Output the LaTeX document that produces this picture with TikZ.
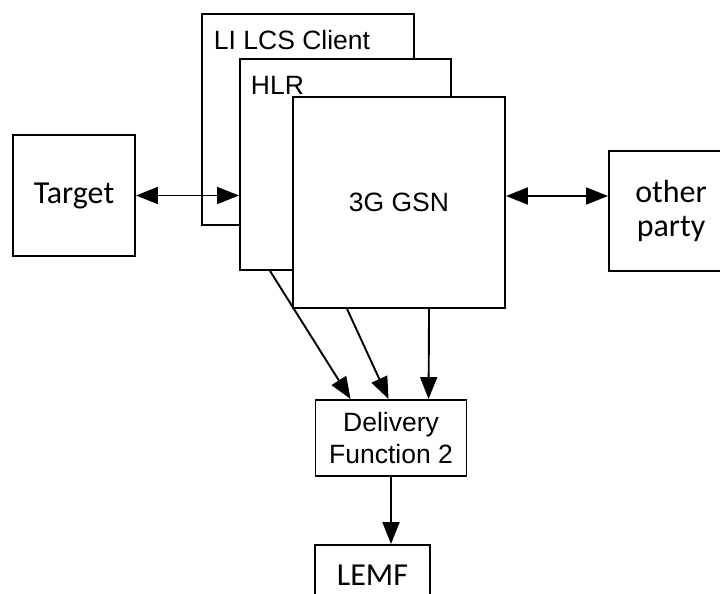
\documentclass[tikz,border=0pt]{standalone}
\usepackage{fontspec}
\setmainfont{Liberation Sans}
\newfontfamily\calfont{Carlito}
\usetikzlibrary{arrows.meta,calc}
\begin{document}
\begin{tikzpicture}[x=1pt,y=-1pt,>={Triangle[length=22pt,width=17pt]},line width=1.9pt,
    box/.style={draw,fill=white,inner sep=0pt,align=center,font=\fontsize{26.5}{32}\selectfont},
    cbox/.style={box,font=\calfont\fontsize{32}{34}\selectfont},
    lbl/.style={anchor=base west,inner sep=0pt,font=\fontsize{26.5}{32}\selectfont}]
    \useasboundingbox (0,0) rectangle (720,594);
    % stacked network elements
    \node[box,minimum width=212pt,minimum height=211pt] (lcs) at (308,119.5) {};
    \node[lbl] (lcslbl) at (213,49) {LI LCS Client};
    \node[box,minimum width=211pt,minimum height=211pt] (hlr) at (345.5,164.5) {};
    \node[lbl] (hlrlbl) at (250,95) {HLR};
    \node[box,minimum width=212pt,minimum height=211pt] (gsn) at (399,202.5) {3G GSN};
    % end points
    \node[cbox,minimum width=122pt,minimum height=121pt] (target) at (74,195.5) {Target};
    \node[cbox,minimum width=124pt,minimum height=120pt] (other) at (671,211) {other\\party};
    \node[box,minimum width=151pt,minimum height=76pt] (df2) at (391,438) {Delivery\\Function 2};
    \node[cbox,minimum width=115pt,minimum height=60pt] (lemf) at (372.5,575) {LEMF};
    \draw[<->](target.east)--(target.east -| hlr.west);
    \draw[<->]($(gsn.east)+(0,-6.5)$)--($(gsn.east -| other.west)+(0,-6.5)$);
    \draw[->]($(hlr.south west)+(31,0)$)--($(df2.north west)+(36,0)$);
    \draw[->]($(gsn.south west)+(55,0)$)--($(df2.north west)+(74,0)$);
    \draw[->]($(gsn.south west)+(137,0)$)--($(df2.north west)+(114,0)$);
    \draw[->](df2.south)--(df2.south |- lemf.north);
\end{tikzpicture}
\end{document}
